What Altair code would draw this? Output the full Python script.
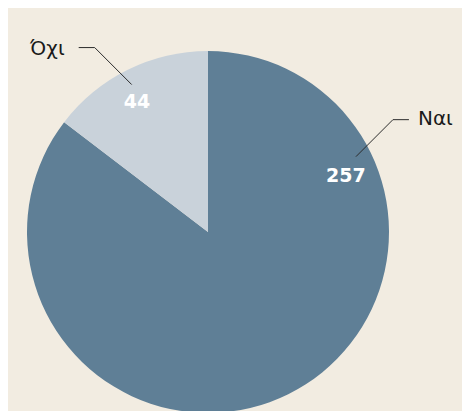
import math
import altair as alt
import pandas as pd

# ---- data ----
categories = ["Ναι", "Όχι"]
values = [257, 44]
colors = ["#5f7f96", "#c9d2da"]
inner_frac = [0.22, 0.46]   # where along each slice the value label sits
lead_frac = [0.205, 0.48]   # where along each slice the leader line starts

# ---- layout (pixels) ----
W, H = 454, 403
CX, CY, R = 200, 224, 181
R_IN, R_LEAD = 149, 166
DIAG, HOR = 37, 16
GAP_L, GAP_R = 9, 14
BG = "#f2ece1"
FONT = "DejaVu Sans"

total = sum(values)
rows, segs = [], []
start = 0.0
for i, (c, v) in enumerate(zip(categories, values)):
    span = v / total * 360.0
    ai = math.radians(start + inner_frac[i] * span)
    al = math.radians(start + lead_frac[i] * span)
    s = 1 if math.sin(al) >= 0 else -1
    ix, iy = CX + R_IN * math.sin(ai), CY - R_IN * math.cos(ai)
    lx, ly = CX + R_LEAD * math.sin(al), CY - R_LEAD * math.cos(al)
    ex, ey = lx + s * DIAG, ly - DIAG
    hx = ex + s * HOR
    rows.append(dict(cat=c, value=v, order=i, ix=ix, iy=iy,
                     tx=hx + (GAP_L if s > 0 else -GAP_R), ty=ey,
                     side="left" if s > 0 else "right"))
    segs.append(dict(cat=c, x=lx, y=ly, x2=ex, y2=ey))
    segs.append(dict(cat=c, x=ex, y=ey, x2=hx, y2=ey))
    start += span

df = pd.DataFrame(rows)
seg = pd.DataFrame(segs)

xs = alt.Scale(domain=[0, W], range=[0, W], nice=False, zero=False)
ys = alt.Scale(domain=[0, H], range=[0, H], nice=False, zero=False)

pie = alt.Chart(df).mark_arc(outerRadius=R).encode(
    theta=alt.Theta("value:Q", stack=True),
    color=alt.Color("cat:N", scale=alt.Scale(domain=categories, range=colors), legend=None),
    order=alt.Order("order:Q"),
    x=alt.value(CX),
    y=alt.value(CY),
)

lines = alt.Chart(seg).mark_rule(color="#2b2b2b", strokeWidth=1).encode(
    x=alt.X("x:Q", scale=xs, axis=None),
    y=alt.Y("y:Q", scale=ys, axis=None),
    x2="x2:Q",
    y2="y2:Q",
)

inner = alt.Chart(df).mark_text(
    font=FONT, fontSize=19, fontWeight="bold", color="white", baseline="middle", dy=1
).encode(
    x=alt.X("ix:Q", scale=xs, axis=None),
    y=alt.Y("iy:Q", scale=ys, axis=None),
    text="value:Q",
)

outer_l = alt.Chart(df[df["side"] == "left"]).mark_text(
    font=FONT, fontSize=20, color="#1a1a1a", baseline="middle", align="left", dy=-1
).encode(
    x=alt.X("tx:Q", scale=xs, axis=None),
    y=alt.Y("ty:Q", scale=ys, axis=None),
    text="cat:N",
)
outer_r = alt.Chart(df[df["side"] == "right"]).mark_text(
    font=FONT, fontSize=20, color="#1a1a1a", baseline="middle", align="right", dy=1
).encode(
    x=alt.X("tx:Q", scale=xs, axis=None),
    y=alt.Y("ty:Q", scale=ys, axis=None),
    text="cat:N",
)

chart = alt.layer(pie, lines, inner, outer_l, outer_r).properties(
    width=W, height=H, background=BG, padding=0,
).configure_view(stroke=None)

chart.save("out.html", embed_options={"renderer": "svg", "actions": False})
